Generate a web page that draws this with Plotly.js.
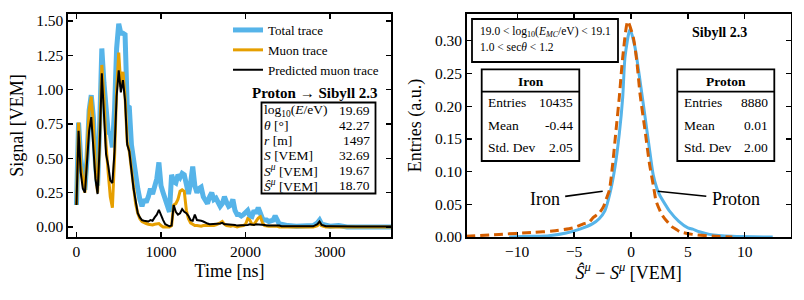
<!DOCTYPE html>
<html><head><meta charset="utf-8">
<script src="https://cdn.plot.ly/plotly-3.0.1.min.js"></script>
<style>html,body{margin:0;padding:0;background:#fff}#plot{width:804px;height:300px}</style>
</head><body><div id="plot"></div>
<script>
// ---- Left panel: time traces ----
const timeNs = [0,25,50,75,100,125,150,175,200,225,250,275,300,325,350,375,400,425,450,475,500,525,550,575,600,625,650,675,700,725,750,775,800,825,850,875,900,925,950,975,1000,1025,1050,1075,1100,1125,1150,1175,1200,1225,1250,1275,1300,1325,1350,1375,1400,1425,1450,1475,1500,1525,1550,1575,1600,1625,1650,1675,1700,1725,1750,1775,1800,1825,1850,1875,1900,1925,1950,1975,2000,2025,2050,2075,2100,2125,2150,2175,2200,2225,2250,2275,2300,2325,2350,2375,2400,2425,2450,2475,2500,2600,2700,2800,2850,2875,2900,2950,3000,3100,3200,3300,3400,3500,3600,3720];
const totalTrace = [0.16,0.76,0.50,0.35,0.27,0.50,0.85,0.96,0.80,0.45,0.30,0.75,1.30,1.05,0.80,0.69,0.68,0.58,0.85,1.30,1.48,1.41,1.41,1.40,0.88,0.87,0.60,0.48,0.36,0.28,0.20,0.15,0.20,0.18,0.22,0.28,0.24,0.30,0.35,0.47,0.30,0.25,0.20,0.15,0.11,0.38,0.33,0.32,0.38,0.36,0.39,0.38,0.30,0.24,0.32,0.44,0.30,0.25,0.28,0.29,0.22,0.20,0.17,0.22,0.25,0.20,0.21,0.18,0.15,0.17,0.22,0.18,0.15,0.16,0.20,0.12,0.09,0.09,0.08,0.09,0.10,0.12,0.08,0.075,0.12,0.10,0.14,0.10,0.06,0.05,0.05,0.04,0.05,0.05,0.08,0.04,0.02,0.02,0.015,0.01,0.01,0.005,0.01,0.01,0.03,0.05,0.02,0.01,0.005,0.01,0,0,0,0,0,0];
const muonTrace = [0.16,0.76,0.45,0.33,0.25,0.55,0.85,0.95,0.75,0.40,0.25,0.65,1.18,0.95,0.60,0.40,0.22,0.14,0.50,1.00,1.27,1.02,1.13,0.95,0.62,0.55,0.42,0.28,0.17,0.10,0.06,0.04,0.03,0.025,0.02,0.015,0.015,0.02,0.02,0.025,0.01,0,0,0,0,0.01,0.16,0.17,0.20,0.26,0.27,0.26,0.12,0.06,0.03,0.02,0.01,0.01,0.005,0.005,0.01,0.01,0.005,0.01,0.01,0.01,0.015,0.02,0.03,0.04,0.02,0.01,0.005,0.005,0.01,0.005,0,0.005,0.005,0.01,0.02,0.06,0.05,0.02,0.02,0.04,0.065,0.075,0.03,0.01,0.005,0.005,0.005,0.005,0.01,0.005,0,0,0,0,0,0,0,0,0.01,0.03,0.01,0,0,0,0,0,0,0,0,0];
const predictedMuon = [0.16,0.70,0.40,0.28,0.25,0.45,0.70,0.80,0.60,0.35,0.24,0.60,1.12,0.80,0.53,0.45,0.34,0.32,0.55,0.95,1.14,0.98,1.07,0.92,0.60,0.55,0.40,0.28,0.19,0.10,0.07,0.05,0.045,0.045,0.04,0.05,0.045,0.07,0.09,0.125,0.08,0.05,0.02,0.01,0.005,0.01,0.16,0.11,0.09,0.10,0.13,0.11,0.10,0.08,0.05,0.045,0.09,0.05,0.05,0.045,0.04,0.03,0.025,0.02,0.02,0.02,0.02,0.025,0.025,0.03,0.02,0.02,0.02,0.02,0.015,0.015,0.01,0.01,0.01,0.01,0.015,0.015,0.02,0.015,0.015,0.02,0.02,0.02,0.015,0.015,0.01,0.01,0.01,0.01,0.015,0.01,0.01,0.005,0.005,0.005,0.005,0.005,0.005,0.005,0.02,0.04,0.015,0.005,0.005,0.003,0.003,0.003,0.003,0.003,0.003,0.003];
const traceNames = ["Total trace","Muon trace","Predicted muon trace"];

// event info table
const infoLabels = ["log<sub>10</sub>(<i>E</i>/eV)","<i>θ</i> [°]","<i>r</i> [m]","<i>S</i> [VEM]","<i>S</i><sup><i>μ</i></sup> [VEM]","<i>Ŝ</i><sup><i>μ</i></sup> [VEM]"];
const infoValues = ["19.69","42.27","1497","32.69","19.67","18.70"];

// ---- Right panel: distributions ----
const protonX = [-10.7,-8.9,-7.2,-5.7,-4.5,-3.4,-2.8,-2.3,-1.85,-1.41,-1.03,-0.73,-0.53,-0.09,0.35,0.79,1.23,1.67,1.95,2.26,2.49,3.14,3.37,4.2,5.0,5.42,6.0,6.9,8.9,12.45];
const protonY = [0.000,0.001,0.002,0.006,0.012,0.020,0.028,0.040,0.067,0.107,0.158,0.214,0.275,0.318,0.290,0.239,0.184,0.128,0.095,0.075,0.065,0.046,0.040,0.024,0.014,0.012,0.008,0.004,0.001,0.000];
const ironX = [-14.5,-11.6,-8.6,-6.9,-5.1,-4.19,-3.66,-3.31,-2.78,-2.43,-2.2,-1.9,-1.61,-1.32,-1.03,-0.73,-0.29,0.2,0.5,0.79,1.23,1.62,2.0,2.2,2.75,3.58,3.95,4.3,5.4,7.4,8.9];
const ironY = [0.001,0.004,0.007,0.009,0.014,0.020,0.023,0.030,0.037,0.046,0.057,0.072,0.112,0.163,0.214,0.275,0.330,0.305,0.270,0.219,0.163,0.112,0.075,0.055,0.033,0.016,0.012,0.008,0.004,0.001,0.000];
const statRows = ["Entries","Mean","Std. Dev"];
const ironStats = ["10435","-0.44","2.05"];
const protonStats = ["8880","0.01","2.00"];

const FONT = "Liberation Serif, Times New Roman, serif";
const BLUE = "#56B4E9", ORANGE = "#E69F00", VERM = "#D55E00";

const data = [
  {x: timeNs, y: totalTrace, name: traceNames[0], type: "scatter", mode: "lines", line: {color: BLUE, width: 5}, xaxis: "x", yaxis: "y"},
  {x: timeNs, y: muonTrace, name: traceNames[1], type: "scatter", mode: "lines", line: {color: ORANGE, width: 3}, xaxis: "x", yaxis: "y"},
  {x: timeNs, y: predictedMuon, name: traceNames[2], type: "scatter", mode: "lines", line: {color: "#000", width: 2}, xaxis: "x", yaxis: "y"},
  {x: protonX, y: protonY, name: "Proton", type: "scatter", mode: "lines", line: {color: BLUE, width: 3, shape: "spline", smoothing: 0.6}, xaxis: "x2", yaxis: "y2", showlegend: false},
  {x: ironX, y: ironY, name: "Iron", type: "scatter", mode: "lines", line: {color: VERM, width: 3, dash: "9px,5px", shape: "spline", smoothing: 0.6}, xaxis: "x2", yaxis: "y2", showlegend: false}
];

const axBase = {
  showline: true, linecolor: "#000", linewidth: 1.6, mirror: "ticks",
  ticks: "inside", ticklen: 5, tickwidth: 1.3, tickcolor: "#000",
  showgrid: false, zeroline: false,
  tickfont: {family: FONT, size: 15.5, color: "#000"}
};
const T = (txt) => ({text: txt, font: {family: FONT, size: 18, color: "#000"}});

const ann = [];
const PX = (x) => x / 804, PY = (y) => 1 - y / 300;
// Left: header + info table
ann.push({xref: "paper", yref: "paper", x: PX(315), y: PY(92.5), text: "<b>Proton → Sibyll 2.3</b>", showarrow: false, xanchor: "center", yanchor: "middle", font: {family: FONT, size: 15, color: "#000"}});
infoLabels.forEach((lab, i) => {
  const yy = 110 + i * 15;
  ann.push({xref: "paper", yref: "paper", x: PX(263), y: PY(yy), text: lab, showarrow: false, xanchor: "left", yanchor: "middle", borderpad: 0, font: {family: FONT, size: 13.5, color: "#000"}});
  ann.push({xref: "paper", yref: "paper", x: PX(371), y: PY(yy), text: infoValues[i], showarrow: false, xanchor: "right", yanchor: "middle", borderpad: 0, font: {family: FONT, size: 13.5, color: "#000"}});
});
// Right: cut box text
ann.push({xref: "paper", yref: "paper", x: PX(478), y: PY(32), text: "19.0 &lt; log<sub>10</sub>(<i>E</i><sub><i>MC</i></sub>/eV) &lt; 19.1", showarrow: false, xanchor: "left", yanchor: "middle", font: {family: FONT, size: 11.5, color: "#000"}});
ann.push({xref: "paper", yref: "paper", x: PX(478), y: PY(47), text: "1.0 &lt; sec<i>θ</i> &lt; 1.2", showarrow: false, xanchor: "left", yanchor: "middle", font: {family: FONT, size: 11.5, color: "#000"}});
ann.push({xref: "paper", yref: "paper", x: PX(719), y: PY(32), text: "<b>Sibyll 2.3</b>", showarrow: false, xanchor: "center", yanchor: "middle", font: {family: FONT, size: 14, color: "#000"}});
// stat boxes
const statBox = (title, vals, cx, lx, rx) => {
  ann.push({xref: "paper", yref: "paper", x: PX(cx), y: PY(81), text: "<b>" + title + "</b>", showarrow: false, xanchor: "center", yanchor: "middle", font: {family: FONT, size: 13.5, color: "#000"}});
  statRows.forEach((r, i) => {
    const yy = [102.5, 125, 147][i];
    ann.push({xref: "paper", yref: "paper", x: PX(lx), y: PY(yy), text: r, showarrow: false, xanchor: "left", yanchor: "middle", font: {family: FONT, size: 13.5, color: "#000"}});
    ann.push({xref: "paper", yref: "paper", x: PX(rx), y: PY(yy), text: vals[i], showarrow: false, xanchor: "right", yanchor: "middle", font: {family: FONT, size: 13.5, color: "#000"}});
  });
};
statBox("Iron", ironStats, 530.5, 486, 575);
statBox("Proton", protonStats, 725.8, 681.5, 770);
// Iron / Proton labels with pointer lines
ann.push({xref: "x2", yref: "y2", x: -2.49, y: 0.070, ax: -58, ay: 8, text: "Iron", showarrow: true, arrowhead: 0, arrowwidth: 1.6, arrowcolor: "#000", startstandoff: 4, font: {family: FONT, size: 18, color: "#000"}});
ann.push({xref: "x2", yref: "y2", x: 2.35, y: 0.070, ax: 78, ay: 8, text: "Proton", showarrow: true, arrowhead: 0, arrowwidth: 1.6, arrowcolor: "#000", startstandoff: 4, font: {family: FONT, size: 18, color: "#000"}});

const rect = (x0, y0, x1, y1) => ({type: "rect", xref: "paper", yref: "paper", x0: PX(x0), x1: PX(x1), y0: PY(y1), y1: PY(y0), line: {color: "#000", width: 1.8}, fillcolor: "rgba(255,255,255,1)", layer: "below"});
const hline = (x0, x1, y) => ({type: "line", xref: "paper", yref: "paper", x0: PX(x0), x1: PX(x1), y0: PY(y), y1: PY(y), line: {color: "#000", width: 1.8}});
const shapes = [
  rect(261.5, 102.5, 375.5, 193.5),
  rect(472, 19, 618, 62),
  rect(481.7, 69.3, 579.3, 161), hline(481.7, 579.3, 91.7),
  rect(677.3, 69.3, 774.3, 161), hline(677.3, 774.3, 91.7)
];

const layout = {
  width: 804, height: 300,
  margin: {l: 0, r: 0, t: 0, b: 0},
  paper_bgcolor: "#fff", plot_bgcolor: "rgba(0,0,0,0)",
  font: {family: FONT, color: "#000"},
  showlegend: true,
  legend: {x: PX(228), y: PY(15), xanchor: "left", yanchor: "top", bgcolor: "rgba(0,0,0,0)", borderwidth: 0, font: {family: FONT, size: 13, color: "#000"}, tracegroupgap: 0},
  xaxis: Object.assign({}, axBase, {domain: [PX(68), PX(391)], range: [-100, 3720], tickvals: [0,1000,2000,3000], anchor: "y", title: Object.assign(T("Time [ns]"), {standoff: 5})}),
  yaxis: Object.assign({}, axBase, {domain: [0.21, PY(14)], range: [-0.073, 1.551], tickvals: [0,0.25,0.5,0.75,1,1.25,1.5], tickformat: ".2f", anchor: "x", title: Object.assign(T("Signal [VEM]"), {standoff: 8})}),
  xaxis2: Object.assign({}, axBase, {domain: [PX(466.7), PX(790.7)], range: [-14.44, 14.03], tickvals: [-10,-5,0,5,10], anchor: "y2", title: Object.assign(T("<i>Ŝ</i><sup><i>μ</i></sup> − <i>S</i><sup><i>μ</i></sup> [VEM]"), {standoff: 7})}),
  yaxis2: Object.assign({}, axBase, {domain: [0.21, PY(14)], range: [0, 0.341], tickvals: [0,0.05,0.1,0.15,0.2,0.25,0.3], tickformat: ".2f", anchor: "x2", title: Object.assign(T("Entries (a.u.)"), {standoff: 8})}),
  annotations: ann,
  shapes: shapes
};
Plotly.newPlot("plot", data, layout, {displayModeBar: false, staticPlot: true});
</script></body></html>
